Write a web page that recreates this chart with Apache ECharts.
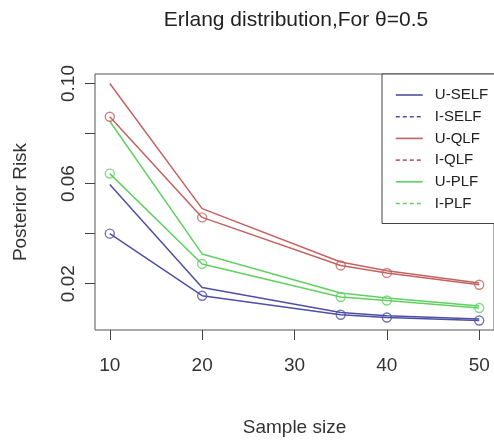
<!DOCTYPE html>
<html>
<head>
<meta charset="utf-8">
<script src="https://cdn.jsdelivr.net/npm/echarts@6/dist/echarts.min.js"></script>
<style>
  html, body { margin: 0; padding: 0; background: #fff; }
  #chart { width: 494px; height: 443px; }
</style>
</head>
<body>
<div id="chart"></div>
<script>
// Sample sizes on the x axis
const sampleSizes = [10, 20, 35, 40, 50];

// Posterior risk under each loss function, uniform (U) and informative (I) priors
const uSelf = [0.0596, 0.0185, 0.0085, 0.0072, 0.0059];
const iSelf = [0.0400, 0.0152, 0.0076, 0.0065, 0.0053];
const uQlf  = [0.1000, 0.0500, 0.0287, 0.0252, 0.0203];
const iQlf  = [0.0867, 0.0465, 0.0273, 0.0243, 0.0196];
const uPlf  = [0.0849, 0.0319, 0.0163, 0.0143, 0.0111];
const iPlf  = [0.0640, 0.0279, 0.0147, 0.0133, 0.0103];

const seriesNames = ['U-SELF', 'I-SELF', 'U-QLF', 'I-QLF', 'U-PLF', 'I-PLF'];
const xTicks = [10, 20, 30, 40, 50];
const yTicks = [0.02, 0.04, 0.06, 0.08, 0.10];
const yTickLabels = [0.02, 0.06, 0.10];

const titleText = 'Erlang distribution,For \u03b8=0.5';
const xName = 'Sample size';
const yName = 'Posterior Risk';

const BLUE = '#4f4fa6';
const RED = '#c46262';
const GREEN = '#62cf62';
const FONT = '"Liberation Sans", Arial, sans-serif';

const pairs = vals => sampleSizes.map((x, i) => [x, vals[i]]);

function lineSeries(name, vals, color) {
  return {
    name, type: 'line', data: pairs(vals), symbol: 'none',
    lineStyle: { color, width: 1.5, type: 'solid' },
    itemStyle: { color },
    z: 3
  };
}
function markerSeries(vals, color) {
  return {
    type: 'scatter', data: pairs(vals), symbol: 'circle', symbolSize: 9,
    itemStyle: { color: 'rgba(0,0,0,0)', borderColor: color, borderWidth: 1.4 },
    z: 4, silent: true
  };
}
function legendEntry(name, color, dashed) {
  return {
    name,
    itemStyle: { color: 'rgba(0,0,0,0)', borderWidth: 0 },
    lineStyle: { color, width: 1.6, type: dashed ? [4, 3] : 'solid' }
  };
}

const chart = echarts.init(document.getElementById('chart'), null, { renderer: 'canvas' });

chart.setOption({
  animation: false,
  backgroundColor: '#fff',
  textStyle: { fontFamily: FONT },
  graphic: [{
    type: 'text', x: 296, y: 20,
    style: {
      text: titleText, fill: '#222', font: '21px ' + FONT,
      align: 'center', verticalAlign: 'middle'
    }
  }],
  grid: {
    left: 95, top: 74, width: 401, height: 256,
    show: true, borderColor: '#555', borderWidth: 1, backgroundColor: 'transparent'
  },
  legend: {
    show: true,
    left: 382, top: 74, orient: 'vertical',
    padding: [13, 60, 12, 13],
    borderColor: '#444', borderWidth: 1, backgroundColor: '#fff',
    itemWidth: 27, itemHeight: 14, itemGap: 5.7,
    textStyle: { fontSize: 15, lineHeight: 16, color: '#222', fontFamily: FONT, padding: [0, 0, 0, 7] },
    data: [
      legendEntry('U-SELF', BLUE, false),
      legendEntry('I-SELF', BLUE, true),
      legendEntry('U-QLF', RED, false),
      legendEntry('I-QLF', RED, true),
      legendEntry('U-PLF', GREEN, false),
      legendEntry('I-PLF', GREEN, true)
    ]
  },
  xAxis: {
    type: 'value', min: 8.4, max: 51.6,
    name: xName, nameLocation: 'middle', nameGap: 88,
    nameTextStyle: { fontSize: 19, color: '#333', fontFamily: FONT },
    axisLine: { show: false },
    axisTick: { show: true, length: 10, inside: false, customValues: xTicks, lineStyle: { color: '#444' } },
    axisLabel: { customValues: xTicks, fontSize: 19, color: '#333', margin: 26, fontFamily: FONT },
    splitLine: { show: false }
  },
  yAxis: {
    type: 'value', min: 0.0015, max: 0.1038,
    name: yName, nameLocation: 'middle', nameGap: 65,
    nameTextStyle: { fontSize: 19, color: '#333', fontFamily: FONT },
    axisLine: { show: false },
    axisTick: { show: true, length: 10, customValues: yTicks, lineStyle: { color: '#444' } },
    axisLabel: {
      customValues: yTickLabels, rotate: 90, fontSize: 19, color: '#333', margin: 17,
      fontFamily: FONT, formatter: v => v.toFixed(2)
    },
    splitLine: { show: false }
  },
  series: [
    lineSeries(seriesNames[0], uSelf, BLUE),
    lineSeries(seriesNames[1], iSelf, BLUE),
    lineSeries(seriesNames[2], uQlf, RED),
    lineSeries(seriesNames[3], iQlf, RED),
    lineSeries(seriesNames[4], uPlf, GREEN),
    lineSeries(seriesNames[5], iPlf, GREEN),
    markerSeries(iSelf, BLUE),
    markerSeries(iQlf, RED),
    markerSeries(iPlf, GREEN)
  ]
});
</script>
</body>
</html>
